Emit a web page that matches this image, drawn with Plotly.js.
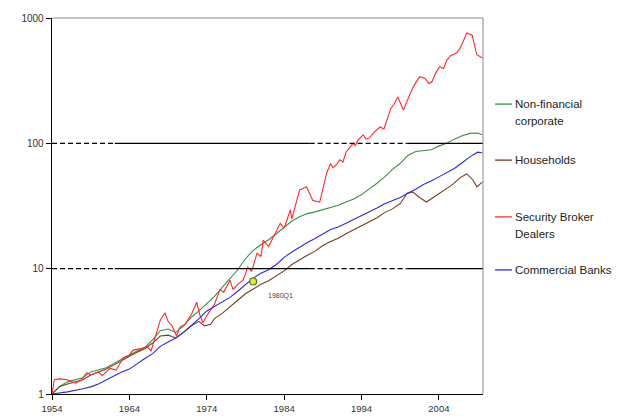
<!DOCTYPE html>
<html>
<head>
<meta charset="utf-8">
<script src="https://cdn.plot.ly/plotly-3.0.1.min.js"></script>
<style>html,body{margin:0;padding:0;background:#fff}#chart{width:618px;height:417px}</style>
</head>
<body>
<div id="chart"></div>
<script>
// ---- data (index, 1954 = 1, log scale) ----
var brokerYears = [1954.0,1954.3,1955,1956,1957,1957.7,1958.5,1959,1960,1960.5,1961.5,1962.3,1963.2,1964,1964.5,1965.5,1966.3,1966.8,1967.6,1968.0,1968.6,1969.0,1969.5,1970.1,1970.5,1971.2,1972,1972.7,1973.1,1973.5,1974.2,1975,1975.7,1976.2,1977,1977.4,1978,1978.7,1979.3,1979.8,1980.5,1981,1981.3,1982,1982.6,1983.5,1984,1984.8,1985,1986,1986.9,1987.7,1988.6,1989.5,1990,1990.3,1990.8,1991.2,1991.6,1992,1992.9,1993.2,1993.5,1994.2,1994.6,1995,1995.7,1996.4,1996.9,1997.3,1997.8,1998.2,1998.7,1999.4,1999.8,2000.3,2000.8,2001.5,2002.2,2002.7,2003.1,2003.6,2004.1,2004.6,2005,2005.5,2006.3,2006.7,2007,2007.6,2008.3,2008.9,2009.6];
var brokerValues = [1.0,1.3,1.32,1.3,1.22,1.28,1.48,1.42,1.5,1.4,1.6,1.55,1.95,2.05,2.24,2.3,2.4,2.2,3.2,3.9,4.45,3.8,3.5,2.9,3.4,3.6,4.3,5.4,4.3,3.7,4.4,5.2,6.8,6.5,8.1,6.8,7.5,8.1,10.3,9.5,13.3,12.5,16.9,15,17.9,23,21,29.4,25,42.5,45,35,34,58,69,64,68,74,71,85,100,96,105,117,108,110,124,135,130,153,190,205,234,184,212,250,290,340,330,300,310,365,408,395,460,500,527,570,620,760,730,510,480];

var corpYears = [1954,1955,1956,1957,1958,1959,1960,1961,1962,1963,1964,1965,1966,1967,1968,1969,1970,1971,1972,1973,1974,1975,1976,1977,1978,1979,1980,1981,1982,1983,1984,1985,1986,1987,1988,1989,1990,1991,1992,1993,1994,1995,1996,1997,1998,1999,2000,2001,2002,2003,2004,2005,2006,2007,2008,2009,2009.6];
var corpValues = [1.0,1.15,1.25,1.3,1.35,1.5,1.55,1.62,1.75,1.9,2.05,2.2,2.35,2.7,3.2,3.3,3.1,3.5,4.1,4.6,5.3,6.0,7.1,8.3,9.8,12,14,15.5,17,19,21.5,24,26,27.5,28.4,29.5,31,32,34,36,39,43,48,54,62,69,80,86,87,89,95,100,108,115,120,121,117];

var householdYears = [1954,1955,1956,1957,1958,1959,1960,1961,1962,1963,1964,1965,1966,1967,1968,1969,1970,1971,1972,1973,1973.7,1974.5,1975,1976,1977,1978,1979,1980,1981,1982,1983,1984,1985,1986,1987,1988,1989,1990,1991,1992,1993,1994,1995,1996,1997,1998,1999,1999.9,2000.6,2001.5,2002.4,2003.2,2004.1,2005,2005.8,2006.7,2007.6,2008.4,2008.9,2009.6];
var householdValues = [1.0,1.15,1.2,1.25,1.3,1.42,1.5,1.58,1.7,1.85,2.0,2.15,2.3,2.55,2.9,2.95,2.8,3.1,3.5,3.8,3.5,3.6,4.0,4.4,5.0,5.6,6.3,6.9,7.5,8.0,8.7,9.6,10.8,11.8,12.8,13.8,15.3,16.5,17.5,19,20.5,22,24,25.5,28,30,33,40,41,37,34,36.6,40,43,47,53,57,51,45,49];

var bankYears = [1954,1956,1958,1959,1960,1961,1962,1963,1964,1965,1966,1967,1968,1969,1970,1971,1972,1973,1974,1975,1976,1977,1978,1979,1980,1981,1982,1983,1984,1985,1986,1987,1988,1989,1990,1991,1992,1993,1994,1995,1996,1997,1998,1999,2000,2001,2002,2003,2004,2005,2006,2007,2008,2009,2009.6];
var bankValues = [1.0,1.04,1.1,1.14,1.2,1.29,1.38,1.5,1.58,1.75,1.92,2.1,2.4,2.6,2.8,3.1,3.5,4.0,4.6,5.0,5.4,5.9,6.6,7.5,8.4,9.2,9.8,10.8,12.3,13.6,14.9,16.2,17.4,19,20.5,21.5,23,24.8,26.5,28.5,30.5,33,35,37,40,43,47,50,54,58,63,70,78,85,84];

var seriesNames = ['Non-financial corporate','Households','Security Broker Dealers','Commercial Banks'];
var legendLines = [['Non-financial','corporate'],['Households'],['Security Broker','Dealers'],['Commercial Banks']];
var seriesColors = ['#3a8f45','#7a3a22','#ff2a2a','#2a2ae0'];

var markerYear = [1980];
var markerValue = [7.9];
var markerLabel = '1980Q1';
var markerLabelYear = 1983.5;
var markerLabelValue = 6.1;

var xTicks = [1954,1964,1974,1984,1994,2004];
var yTicks = [1,10,100,1000];
var yTickText = ['1','10','100','1000'];

// ---- traces ----
var data = [
  {x: corpYears, y: corpValues, name: seriesNames[0], mode:'lines', line:{color:seriesColors[0], width:1.1}},
  {x: householdYears, y: householdValues, name: seriesNames[1], mode:'lines', line:{color:seriesColors[1], width:1.1}},
  {x: brokerYears, y: brokerValues, name: seriesNames[2], mode:'lines', line:{color:seriesColors[2], width:1.1}},
  {x: bankYears, y: bankValues, name: seriesNames[3], mode:'lines', line:{color:seriesColors[3], width:1.1}},
  {x: markerYear, y: markerValue, mode:'markers', marker:{color:'#e8e830', size:7, line:{color:'#4a7a2a', width:1.2}}, showlegend:false}
];

// ---- reference lines (dashed/solid segments as in source) ----
var shapes = [];
[10,100].forEach(function(v){
  shapes.push({type:'line', xref:'x', yref:'y', x0:1954, x1:1962.1, y0:v, y1:v, line:{color:'#000', width:1.4, dash:'5px,3px'}});
  shapes.push({type:'line', xref:'x', yref:'y', x0:1962.1, x1:1987.3, y0:v, y1:v, line:{color:'#000', width:1.4}});
  shapes.push({type:'line', xref:'x', yref:'y', x0:1987.3, x1:1999.9, y0:v, y1:v, line:{color:'#000', width:1.4, dash:'5px,3px'}});
  shapes.push({type:'line', xref:'x', yref:'y', x0:1999.9, x1:2009.7, y0:v, y1:v, line:{color:'#000', width:1.4}});
});
// frame top/right
shapes.push({type:'line', xref:'paper', yref:'paper', x0:0, x1:1, y0:1, y1:1, line:{color:'#888', width:1}});
shapes.push({type:'line', xref:'paper', yref:'paper', x0:1, x1:1, y0:0, y1:1, line:{color:'#888', width:1}});

// ---- legend as annotations ----
var annotations = [];
var legendTop = [0.771, 0.622, 0.471, 0.330];
legendLines.forEach(function(lines, i){
  shapes.push({type:'line', xref:'paper', yref:'paper', x0:1.028, x1:1.067, y0:legendTop[i], y1:legendTop[i], line:{color:seriesColors[i], width:1.3}});
  lines.forEach(function(t, j){
    annotations.push({xref:'paper', yref:'paper', x:1.069, y:legendTop[i] - j*0.045, text:t, showarrow:false,
      xanchor:'left', yanchor:'middle', font:{family:'Liberation Sans, Arial, sans-serif', size:11.5, color:'#222'}});
  });
});
annotations.push({xref:'x', yref:'y', x:markerLabelYear, y:Math.log10(markerLabelValue), text:markerLabel, showarrow:false,
  font:{family:'Liberation Sans, Arial, sans-serif', size:7, color:'#444'}});

var layout = {
  width:618, height:417,
  margin:{l:52, r:135, t:18, b:23},
  paper_bgcolor:'#fff', plot_bgcolor:'#fff',
  showlegend:false,
  font:{family:'Liberation Sans, Arial, sans-serif', size:9.5, color:'#333'},
  xaxis:{range:[1954,2009.7], tickvals:xTicks, ticktext:xTicks.map(String), ticks:'outside', ticklen:5, tickcolor:'#000',
    showline:true, linecolor:'#000', linewidth:1.3, showgrid:false, zeroline:false, tickfont:{size:9.5, color:'#333'}},
  yaxis:{type:'log', range:[0,3], tickvals:yTicks, ticktext:yTickText, ticks:'outside', ticklen:5, tickcolor:'#000',
    showline:true, linecolor:'#000', linewidth:1.3, showgrid:false, zeroline:false, tickfont:{size:10, color:'#333'}},
  shapes:shapes,
  annotations:annotations
};

Plotly.newPlot('chart', data, layout, {displayModeBar:false, staticPlot:true});
</script>
</body>
</html>
